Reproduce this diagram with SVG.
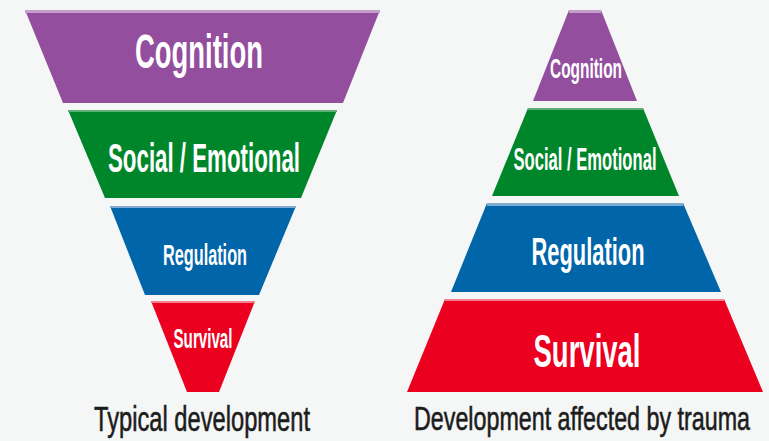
<svg xmlns="http://www.w3.org/2000/svg" width="769" height="441" viewBox="0 0 769 441">
<style>
.lbl{font-family:"Liberation Sans",Arial,sans-serif;font-weight:bold;fill:#ffffff;text-anchor:middle}
.cap{font-family:"Liberation Sans",Arial,sans-serif;fill:#1c1c1c;stroke:#1c1c1c;stroke-width:0.6;text-anchor:middle}
.p{fill:#934E9E}.pt{fill:#C49FCA}
.g{fill:#00862A}.gt{fill:#5FAE73}
.b{fill:#0065A9}.bt{fill:#7FAAD2}
.r{fill:#EB001F}.rt{fill:#F2808F}
</style>
<rect width="769" height="441" fill="#F5F7F7"/>
<g id="typical">
<g id="t-cognition">
<polygon class="p" points="25,10 380,10 343,103 63,103"/>
<rect class="pt" x="25" y="10" width="355" height="3"/>
<text class="lbl" x="199" y="68" font-size="48" textLength="128" lengthAdjust="spacingAndGlyphs">Cognition</text>
</g>
<g id="t-social">
<polygon class="g" points="68,110 337,110 301,198 105,198"/>
<rect class="gt" x="68" y="110" width="269" height="2"/>
<text class="lbl" x="204" y="172" font-size="40" textLength="192" lengthAdjust="spacingAndGlyphs">Social / Emotional</text>
</g>
<g id="t-regulation">
<polygon class="b" points="110,206 296,206 259,295 145,295"/>
<rect class="bt" x="110" y="206" width="186" height="2"/>
<text class="lbl" x="205" y="265" font-size="29" textLength="84" lengthAdjust="spacingAndGlyphs">Regulation</text>
</g>
<g id="t-survival">
<polygon class="r" points="151,301 255,301 219,392 187,392"/>
<rect class="rt" x="151" y="301" width="104" height="2"/>
<text class="lbl" x="203" y="348" font-size="28" textLength="59" lengthAdjust="spacingAndGlyphs">Survival</text>
</g>
<text id="t-caption" class="cap" x="202" y="431" font-size="35" textLength="216" lengthAdjust="spacingAndGlyphs">Typical development</text>
</g>
<g id="trauma">
<g id="a-cognition">
<polygon class="p" points="569,10 601,10 637,101 533,101"/>
<rect class="pt" x="569" y="10" width="32" height="3"/>
<text class="lbl" x="586" y="78" font-size="28" textLength="72" lengthAdjust="spacingAndGlyphs">Cognition</text>
</g>
<g id="a-social">
<polygon class="g" points="528,108 643,108 679,196 492,196"/>
<rect class="gt" x="528" y="108" width="115" height="2"/>
<text class="lbl" x="585" y="170" font-size="32" textLength="143" lengthAdjust="spacingAndGlyphs">Social / Emotional</text>
</g>
<g id="a-regulation">
<polygon class="b" points="487,203 683,203 721,292 451,292"/>
<rect class="bt" x="487" y="203" width="196" height="3"/>
<text class="lbl" x="588" y="265" font-size="39" textLength="113" lengthAdjust="spacingAndGlyphs">Regulation</text>
</g>
<g id="a-survival">
<polygon class="r" points="445,299 724,299 763,392 407,392"/>
<rect class="rt" x="445" y="299" width="279" height="2"/>
<text class="lbl" x="587" y="367" font-size="47" textLength="107" lengthAdjust="spacingAndGlyphs">Survival</text>
</g>
<text id="a-caption" class="cap" x="582" y="430" font-size="33" textLength="336" lengthAdjust="spacingAndGlyphs">Development affected by trauma</text>
</g>
<g id="connectors"></g>
</svg>
